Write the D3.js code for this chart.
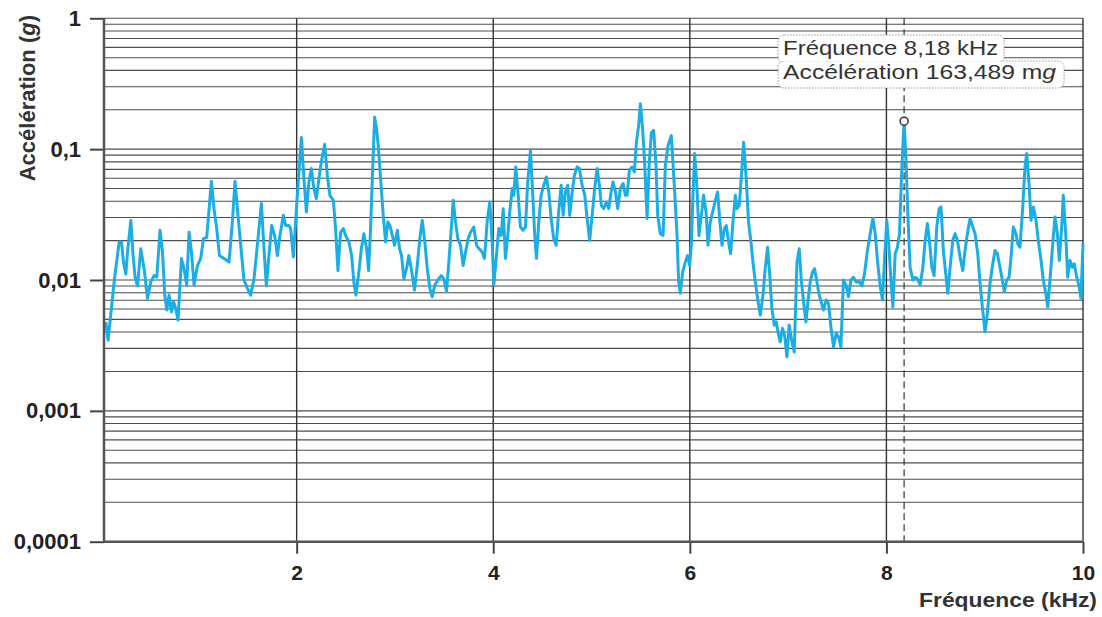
<!DOCTYPE html>
<html><head><meta charset="utf-8">
<script src="https://cdn.jsdelivr.net/npm/d3@7"></script>
<style>body{margin:0;background:#fff}svg{display:block}</style>
</head><body><svg id="c" width="1102" height="617"></svg>
<script>
const frequencyKHz = [
0.058,0.082,0.143,0.194,0.218,0.238,0.262,0.279,0.313,0.336,
0.356,0.381,0.414,0.448,0.482,0.516,0.549,0.577,0.610,0.635,
0.658,0.679,0.702,0.726,0.747,0.770,0.793,0.828,0.854,0.882,
0.905,0.930,0.956,0.991,1.024,1.052,1.085,1.133,1.159,1.187,
1.214,1.261,1.312,1.346,1.373,1.403,1.431,1.464,1.499,1.532,
1.566,1.600,1.641,1.668,1.692,1.718,1.746,1.776,1.804,1.830,
1.865,1.888,1.922,1.939,1.966,2.000,2.048,2.074,2.099,2.125,
2.149,2.176,2.200,2.227,2.251,2.285,2.312,2.338,2.373,2.396,
2.420,2.447,2.475,2.498,2.532,2.559,2.582,2.603,2.633,2.658,
2.684,2.712,2.732,2.752,2.770,2.793,2.813,2.830,2.854,2.881,
2.905,2.928,2.948,2.973,2.996,3.024,3.047,3.067,3.091,3.118,
3.141,3.166,3.199,3.227,3.253,3.278,3.304,3.329,3.355,3.379,
3.406,3.436,3.471,3.497,3.525,3.548,3.573,3.593,3.616,3.640,
3.667,3.694,3.718,3.745,3.769,3.802,3.830,3.857,3.888,3.911,
3.938,3.965,3.989,4.006,4.033,4.056,4.081,4.101,4.124,4.148,
4.168,4.193,4.209,4.229,4.254,4.277,4.304,4.328,4.351,4.379,
4.402,4.422,4.440,4.463,4.487,4.514,4.541,4.565,4.589,4.615,
4.640,4.663,4.691,4.711,4.734,4.758,4.778,4.803,4.826,4.853,
4.877,4.904,4.931,4.955,4.981,5.006,5.032,5.057,5.080,5.100,
5.124,5.151,5.175,5.199,5.219,5.243,5.266,5.293,5.321,5.344,
5.362,5.385,5.412,5.436,5.456,5.479,5.497,5.520,5.540,5.565,
5.588,5.609,5.632,5.656,5.673,5.700,5.728,5.751,5.778,5.812,
5.842,5.870,5.886,5.903,5.927,5.954,5.977,5.998,6.015,6.032,
6.049,6.073,6.093,6.117,6.140,6.165,6.185,6.208,6.232,6.256,
6.283,6.303,6.327,6.351,6.371,6.394,6.415,6.439,6.463,6.480,
6.503,6.523,6.547,6.574,6.597,6.622,6.642,6.666,6.689,6.717,
6.744,6.767,6.791,6.811,6.835,6.859,6.879,6.903,6.920,6.943,
6.964,6.988,7.011,7.039,7.062,7.090,7.113,7.133,7.157,7.181,
7.202,7.225,7.248,7.269,7.293,7.316,7.360,7.387,7.411,7.435,
7.462,7.489,7.513,7.537,7.563,7.591,7.614,7.639,7.665,7.692,
7.726,7.750,7.777,7.807,7.835,7.862,7.886,7.909,7.936,7.960,
7.980,8.004,8.028,8.048,8.066,8.089,8.112,8.133,8.157,8.180,
8.201,8.219,8.241,8.269,8.292,8.316,8.343,8.371,8.394,8.417,
8.437,8.462,8.485,8.512,8.536,8.556,8.579,8.604,8.624,8.648,
8.675,8.699,8.722,8.749,8.777,8.800,8.824,8.851,8.879,8.902,
8.929,8.953,8.976,9.003,9.027,9.054,9.082,9.105,9.128,9.156,
9.179,9.200,9.224,9.248,9.268,9.291,9.318,9.336,9.359,9.387,
9.410,9.427,9.451,9.471,9.495,9.522,9.545,9.573,9.596,9.621,
9.641,9.664,9.692,9.715,9.739,9.759,9.783,9.799,9.824,9.844,
9.868,9.891,9.911,9.936,9.959,9.979,10.000];

const accelerationG = [
0.00477,0.00347,0.00967,0.0195,0.0195,0.0137,0.0111,0.0163,0.0286,0.0154,
0.0105,0.00902,0.0173,0.0122,0.00724,0.00967,0.0108,0.0105,0.024,0.0163,
0.00767,0.00589,0.00767,0.00571,0.00682,0.00607,0.00494,0.0146,0.0122,0.00916,
0.0232,0.0163,0.00916,0.0129,0.0146,0.0207,0.0212,0.0569,0.0351,0.0247,
0.0154,0.0146,0.0137,0.0278,0.0569,0.0312,0.0184,0.01,0.00864,0.00767,
0.0102,0.0184,0.0384,0.0173,0.00902,0.0154,0.0261,0.0219,0.0154,0.0219,
0.0312,0.0261,0.0261,0.0247,0.015,0.0372,0.123,0.0596,0.0331,0.0562,
0.0711,0.05,0.0419,0.0596,0.0799,0.109,0.0632,0.0444,0.0407,0.0247,
0.0118,0.0232,0.0247,0.0219,0.0195,0.0154,0.00967,0.00767,0.0115,0.0173,
0.0226,0.0173,0.0118,0.0247,0.0596,0.175,0.143,0.106,0.0596,0.0312,
0.0195,0.0278,0.0261,0.0219,0.0184,0.024,0.0173,0.0154,0.0102,0.0122,
0.0154,0.0122,0.00838,0.0129,0.0207,0.0286,0.0195,0.0122,0.00864,0.00745,
0.00916,0.01,0.0108,0.0102,0.00814,0.0137,0.0247,0.0407,0.0278,0.0207,
0.0184,0.0129,0.0163,0.0207,0.0232,0.0254,0.0184,0.0173,0.0163,0.0146,
0.0278,0.0395,0.0195,0.00916,0.0154,0.0247,0.0219,0.0351,0.0146,0.0219,
0.0331,0.05,0.0444,0.0732,0.0444,0.0254,0.024,0.0254,0.0562,0.0982,
0.0444,0.0219,0.0146,0.0278,0.0444,0.053,0.0613,0.0471,0.0295,0.0207,
0.0184,0.0312,0.053,0.0312,0.0471,0.053,0.0312,0.0471,0.0632,0.0732,
0.0711,0.053,0.0444,0.0295,0.0201,0.0312,0.05,0.0711,0.053,0.0372,
0.0351,0.0395,0.0351,0.0471,0.0562,0.0471,0.0351,0.05,0.0546,0.0444,
0.0444,0.069,0.0732,0.067,0.113,0.151,0.222,0.143,0.0799,0.0295,
0.0799,0.134,0.139,0.0754,0.0312,0.0226,0.0219,0.0754,0.106,0.127,
0.053,0.0219,0.00967,0.00791,0.0115,0.0137,0.0154,0.0129,0.0184,0.0444,
0.0927,0.05,0.0219,0.0312,0.0444,0.0331,0.0184,0.0278,0.0331,0.0395,
0.0471,0.0295,0.0184,0.0247,0.0261,0.0195,0.0159,0.0278,0.0444,0.0351,
0.0372,0.0596,0.113,0.0596,0.0278,0.0195,0.0137,0.00967,0.00724,0.00539,
0.00767,0.0122,0.0178,0.0115,0.00607,0.00452,0.00479,0.00379,0.00337,0.00427,
0.00379,0.00259,0.00452,0.00337,0.00282,0.0137,0.0173,0.0102,0.00682,0.00479,
0.00682,0.00967,0.0115,0.0122,0.00967,0.00767,0.00589,0.00703,0.00663,0.00439,
0.00308,0.00391,0.00368,0.00308,0.01,0.00902,0.00745,0.01,0.0105,0.00967,
0.00967,0.00902,0.0111,0.0168,0.0226,0.0295,0.0226,0.0141,0.00902,0.00703,
0.0141,0.0286,0.0168,0.00944,0.00624,0.0159,0.0178,0.0226,0.0732,0.163489,
0.0777,0.0303,0.0125,0.01,0.0105,0.0102,0.00916,0.0125,0.0201,0.027,
0.0201,0.0125,0.0108,0.0254,0.0351,0.0362,0.0168,0.0111,0.00791,0.0125,
0.0201,0.0226,0.0201,0.015,0.0118,0.0168,0.0226,0.0295,0.0254,0.0226,
0.0159,0.00944,0.00624,0.00402,0.00555,0.00944,0.0133,0.0168,0.0159,0.0125,
0.01,0.00814,0.01,0.0105,0.015,0.0254,0.0226,0.0189,0.0178,0.0362,
0.0732,0.0927,0.0546,0.0286,0.0362,0.0286,0.0201,0.0141,0.01,0.00791,
0.00624,0.01,0.0189,0.0303,0.0226,0.0141,0.0254,0.0444,0.0226,0.0105,
0.0141,0.0125,0.0133,0.0105,0.00902,0.00724,0.0189];

const xTickValues = [2, 4, 6, 8, 10];
const xTickLabels = ["2", "4", "6", "8", "10"];
const yTickValues = [1, 0.1, 0.01, 0.001, 0.0001];
const yTickLabels = ["1", "0,1", "0,01", "0,001", "0,0001"];
const xDomain = [0.04, 10];
const yDomain = [0.0001, 1];
const markerFreq = 8.18;
const markerAccel = 0.163489;
const annotationFreqText = "Fréquence 8,18 kHz";
const annotationAccelText = "Accélération 163,489 m";
const xTitle = "Fréquence (kHz)";
const yTitle = "Accélération (";

const FONT = "'Liberation Sans', Arial, Helvetica, sans-serif";
const svg = d3.select("#c");
const L = 104, R = 1083, T = 18.3, B = 541.7;
const x = d3.scaleLinear().domain(xDomain).range([L, R]);
const y = d3.scaleLog().domain(yDomain).range([B, T]);

// horizontal grid (decades + minor)
const gridVals = [];
for (let i = 0; i < yTickValues.length - 1; i++) {
  const dec = yTickValues[i + 1];
  for (let k = 1; k <= 9; k++) gridVals.push(k * dec);
}
gridVals.push(1);
svg.append("g").selectAll("line").data(gridVals).join("line")
  .attr("x1", L).attr("x2", R)
  .attr("y1", d => y(d)).attr("y2", d => y(d))
  .attr("stroke", "#4d4d4d").attr("stroke-width", 1.1);

// vertical grid at major ticks
svg.append("g").selectAll("line").data(xTickValues).join("line")
  .attr("x1", d => x(d)).attr("x2", d => x(d))
  .attr("y1", T).attr("y2", B)
  .attr("stroke", "#333").attr("stroke-width", 1.4);

// dashed marker line
svg.append("line")
  .attr("x1", x(markerFreq)).attr("x2", x(markerFreq))
  .attr("y1", T).attr("y2", B)
  .attr("stroke", "#333").attr("stroke-width", 1.2)
  .attr("stroke-dasharray", "7,4");

// data line
const pts = frequencyKHz.map((f, i) => [f, accelerationG[i]]);
svg.append("path").datum(pts)
  .attr("fill", "none").attr("stroke", "#1aaee5")
  .attr("stroke-width", 3).attr("stroke-linejoin", "round")
  .attr("d", d3.line().x(d => x(d[0])).y(d => y(d[1])));

// marker circle
svg.append("circle")
  .attr("cx", x(markerFreq)).attr("cy", y(markerAccel)).attr("r", 4)
  .attr("fill", "#fff").attr("stroke", "#333").attr("stroke-width", 1.5);

// axes
const yAxis = d3.axisLeft(y).tickValues(yTickValues)
  .tickFormat((d, i) => yTickLabels[i]).tickSize(14).tickPadding(9);
const gy = svg.append("g").attr("transform", `translate(${L},0)`).call(yAxis);
gy.select(".domain").remove();
gy.selectAll(".tick line").attr("stroke", "#444").attr("stroke-width", 2);
gy.selectAll(".tick text").attr("font-family", FONT).attr("font-size", 22)
  .attr("font-weight", "bold").attr("fill", "#222");

const xAxis = d3.axisBottom(x).tickValues(xTickValues)
  .tickFormat((d, i) => xTickLabels[i]).tickSize(12).tickPadding(11);
const gx = svg.append("g").attr("transform", `translate(0,${B})`).call(xAxis);
gx.select(".domain").remove();
gx.selectAll(".tick line").attr("stroke", "#444").attr("stroke-width", 2);
gx.selectAll(".tick text").attr("font-family", FONT).attr("font-size", 21)
  .attr("font-weight", "bold").attr("fill", "#222");

// axis lines
svg.append("line").attr("x1", L).attr("x2", L).attr("y1", T).attr("y2", B)
  .attr("stroke", "#555").attr("stroke-width", 2.5);
svg.append("line").attr("x1", L).attr("x2", R).attr("y1", B).attr("y2", B)
  .attr("stroke", "#555").attr("stroke-width", 2.5);

// axis titles
svg.append("text").attr("x", 1097).attr("y", 607).attr("text-anchor", "end")
  .attr("font-family", FONT).attr("font-size", 21).attr("font-weight", "bold")
  .attr("fill", "#333").attr("textLength", 178).attr("lengthAdjust", "spacingAndGlyphs")
  .text(xTitle);

const yt = svg.append("text").attr("transform", "translate(35,15) rotate(-90)")
  .attr("text-anchor", "end").attr("font-family", FONT).attr("font-size", 22)
  .attr("font-weight", "bold").attr("fill", "#333");
yt.append("tspan").text(yTitle);
yt.append("tspan").attr("font-style", "italic").text("g");
yt.append("tspan").text(")");

// annotation box
const ax0 = x(markerFreq) - 126;
const boxes = [{x: ax0, y: 35, w: 226, h: 28}, {x: ax0, y: 61, w: 286, h: 27}];
const ann = svg.append("g");
ann.selectAll("rect.b").data(boxes).join("rect").attr("class", "b")
  .attr("x", d => d.x).attr("y", d => d.y).attr("width", d => d.w).attr("height", d => d.h)
  .attr("rx", 6).attr("fill", "#fff").attr("stroke", "#999")
  .attr("stroke-width", 1).attr("stroke-dasharray", "1.5,1.5");
ann.selectAll("rect.f").data(boxes).join("rect").attr("class", "f")
  .attr("x", d => d.x + 1.5).attr("y", d => d.y + 1.5).attr("width", d => d.w - 3).attr("height", d => d.h - 3)
  .attr("rx", 5).attr("fill", "#fff");
ann.append("text").attr("x", ax0 + 5).attr("y", 55)
  .attr("font-family", FONT).attr("font-size", 21).attr("fill", "#333")
  .attr("textLength", 215).attr("lengthAdjust", "spacingAndGlyphs")
  .text(annotationFreqText);
const t2 = ann.append("text").attr("x", ax0 + 5).attr("y", 79)
  .attr("font-family", FONT).attr("font-size", 21).attr("fill", "#333")
  .attr("textLength", 273).attr("lengthAdjust", "spacingAndGlyphs");
t2.append("tspan").text(annotationAccelText);
t2.append("tspan").attr("font-style", "italic").text("g");
</script></body></html>
